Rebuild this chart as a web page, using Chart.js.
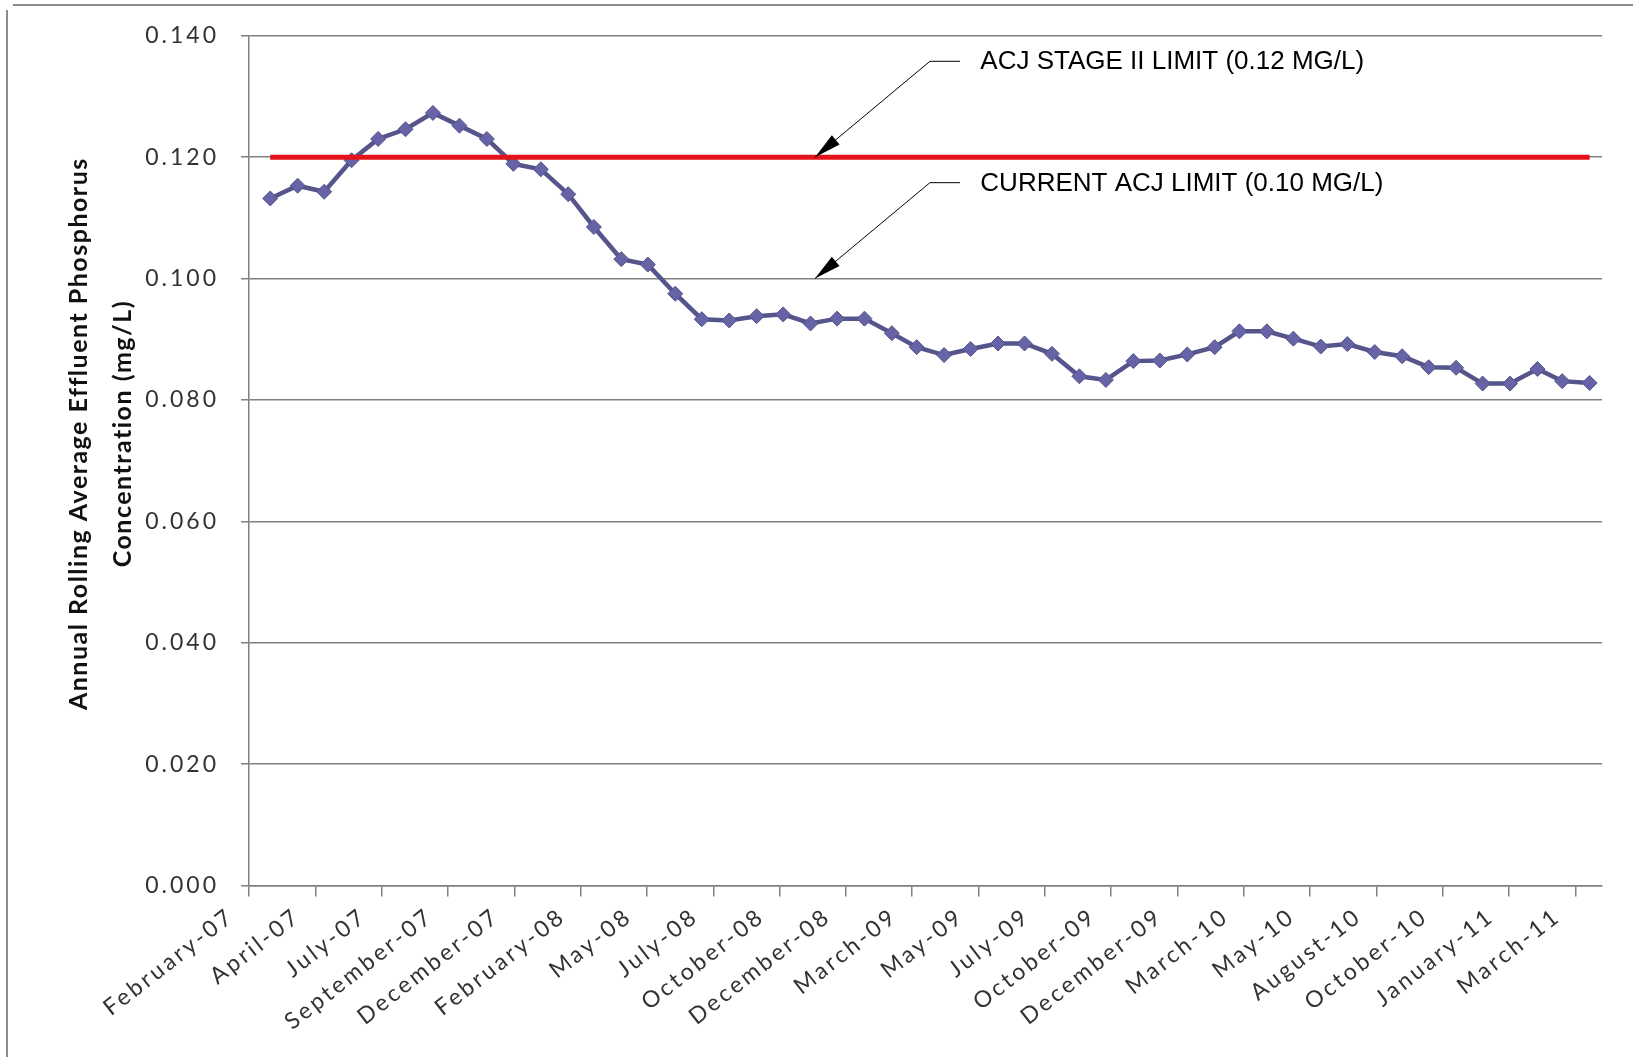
<!DOCTYPE html>
<html>
<head>
<meta charset="utf-8">
<title>Annual Rolling Average Effluent Phosphorus Concentration</title>
<script src="https://cdn.jsdelivr.net/npm/chart.js@4/dist/chart.umd.min.js"></script>
<style>
  html, body { margin: 0; padding: 0; background: #ffffff; }
  canvas { display: block; }
</style>
</head>
<body>
<canvas id="chart" width="1633" height="1057"></canvas>
<script>
// Monthly sample months (annual rolling average reported at the start of each month)
const months = [
  '2007-03', '2007-04', '2007-05', '2007-06', '2007-07', '2007-08', '2007-09', '2007-10', '2007-11', '2007-12',
  '2008-01', '2008-02', '2008-03', '2008-04', '2008-05', '2008-06', '2008-07', '2008-08', '2008-09', '2008-10', '2008-11', '2008-12',
  '2009-01', '2009-02', '2009-03', '2009-04', '2009-05', '2009-06', '2009-07', '2009-08', '2009-09', '2009-10', '2009-11', '2009-12',
  '2010-01', '2010-02', '2010-03', '2010-04', '2010-05', '2010-06', '2010-07', '2010-08', '2010-09', '2010-10', '2010-11', '2010-12',
  '2011-01', '2011-02', '2011-03', '2011-04'
];

// Annual rolling average effluent phosphorus, mg/L
const phosphorus = [
  0.1132, 0.1153, 0.1143, 0.1195, 0.1230, 0.1246, 0.1273, 0.1252, 0.1230, 0.1189,
  0.1180, 0.1139, 0.1085, 0.1032, 0.1023, 0.0975, 0.0933, 0.0931, 0.0938, 0.0941, 0.0926, 0.0934,
  0.0934, 0.0910, 0.0887, 0.0874, 0.0884, 0.0893, 0.0893, 0.0876, 0.0839, 0.0833, 0.0864, 0.0865,
  0.0875, 0.0887, 0.0913, 0.0913, 0.0901, 0.0888, 0.0892, 0.0879, 0.0872, 0.0854, 0.0853, 0.0827,
  0.0827, 0.0851, 0.0831, 0.0828
];

// Permit limits, mg/L
const stageIILimit = 0.12;
const currentLimit = 0.10;

// Date axis labels, one every 75 days from the axis start
const tickLabels = [
  'February-07', 'April-07', 'July-07', 'September-07', 'December-07',
  'February-08', 'May-08', 'July-08', 'October-08', 'December-08',
  'March-09', 'May-09', 'July-09', 'October-09', 'December-09',
  'March-10', 'May-10', 'August-10', 'October-10', 'January-11', 'March-11'
];

const axisStart = Date.UTC(2007, 1, 5);
const axisSpanDays = 1530;
const tickStepDays = 75;
const DAY = 86400000;

function dayOf(month) {
  const [y, m] = month.split('-').map(Number);
  return (Date.UTC(y, m - 1, 1) - axisStart) / DAY;
}

const tickDays = tickLabels.map((_, i) => i * tickStepDays);

// Callouts pointing at the two limits (positions in axis units)
const callouts = [
  { text: 'ACJ STAGE II LIMIT (0.12 MG/L)', value: stageIILimit, tipDay: 640, elbowDay: 770, lineEndDay: 804, textDay: 827, labelValue: 0.1358 },
  { text: 'CURRENT ACJ LIMIT (0.10 MG/L)',  value: currentLimit, tipDay: 640, elbowDay: 770, lineEndDay: 804, textDay: 827, labelValue: 0.1158 }
];

const yTitleLines = ['Annual Rolling Average Effluent Phosphorus', 'Concentration (mg/L)'];

// Widen the tick label tracking of a scale
function trackLabels(scale, spacing) {
  if (!scale || scale.__tracked) return;
  const drawLabels = scale.drawLabels;
  scale.drawLabels = function (area) {
    const ctx = this.ctx;
    const prev = ctx.letterSpacing;
    ctx.letterSpacing = spacing;
    drawLabels.call(this, area);
    ctx.letterSpacing = prev || '0px';
  };
  scale.__tracked = true;
}

const decorations = {
  id: 'decorations',
  beforeDraw(chart) {
    const ctx = chart.ctx;
    trackLabels(chart.scales.x, '3px');
    trackLabels(chart.scales.y, '3px');
    ctx.save();
    ctx.fillStyle = '#ffffff';
    ctx.fillRect(0, 0, chart.width, chart.height);
    // outer frame: top and left edges
    ctx.strokeStyle = '#8c8c8c';
    ctx.lineWidth = 2;
    ctx.beginPath();
    ctx.moveTo(13, 5);
    ctx.lineTo(chart.width, 5);
    ctx.moveTo(7, 10);
    ctx.lineTo(7, chart.height);
    ctx.stroke();
    ctx.restore();
  },
  afterDraw(chart) {
    const ctx = chart.ctx;
    const xs = chart.scales.x;
    const ys = chart.scales.y;

    callouts.forEach(c => {
      const tipX = xs.getPixelForValue(c.tipDay);
      const tipY = ys.getPixelForValue(c.value);
      const elbowX = xs.getPixelForValue(c.elbowDay);
      const elbowY = ys.getPixelForValue(c.labelValue);
      const endX = xs.getPixelForValue(c.lineEndDay);
      const textX = xs.getPixelForValue(c.textDay);

      ctx.save();
      ctx.strokeStyle = '#000000';
      ctx.fillStyle = '#000000';
      ctx.lineWidth = 1;
      ctx.beginPath();
      ctx.moveTo(endX, elbowY);
      ctx.lineTo(elbowX, elbowY);
      ctx.lineTo(tipX, tipY);
      ctx.stroke();

      const ang = Math.atan2(tipY - elbowY, tipX - elbowX);
      const len = 27, half = 6;
      const bx = tipX - len * Math.cos(ang);
      const by = tipY - len * Math.sin(ang);
      ctx.beginPath();
      ctx.moveTo(tipX, tipY);
      ctx.lineTo(bx + half * Math.sin(ang), by - half * Math.cos(ang));
      ctx.lineTo(bx - half * Math.sin(ang), by + half * Math.cos(ang));
      ctx.closePath();
      ctx.fill();

      ctx.font = '26px "Liberation Sans", Arial, sans-serif';
      ctx.textBaseline = 'middle';
      ctx.textAlign = 'left';
      ctx.fillText(c.text, textX, elbowY + 1);
      ctx.restore();
    });

    // vertical axis title, two lines
    const midY = (chart.chartArea.top + chart.chartArea.bottom) / 2 - 27;
    const lineX = [79, 123];
    ctx.save();
    ctx.fillStyle = '#111111';
    ctx.font = 'bold 25px Lato, "Open Sans", sans-serif';
    ctx.textAlign = 'center';
    ctx.textBaseline = 'middle';
    ctx.letterSpacing = '1.5px';
    yTitleLines.forEach((line, i) => {
      ctx.save();
      ctx.translate(lineX[i], midY);
      ctx.rotate(-Math.PI / 2);
      ctx.fillText(line, 0, 0);
      ctx.restore();
    });
    ctx.restore();
  }
};

const gridGray = '#808080';

new Chart(document.getElementById('chart'), {
  type: 'line',
  data: {
    datasets: [
      {
        label: 'ACJ Stage II Limit',
        data: months.map(m => ({ x: dayOf(m), y: stageIILimit })),
        borderColor: '#e3121b',
        borderWidth: 5,
        pointRadius: 0,
        tension: 0,
        order: 0
      },
      {
        label: 'Annual Rolling Average Effluent Phosphorus',
        data: months.map((m, i) => ({ x: dayOf(m), y: phosphorus[i] })),
        borderColor: '#55548b',
        borderWidth: 4.5,
        pointStyle: 'rectRot',
        pointRadius: 7.5,
        pointBackgroundColor: '#6664a6',
        pointBorderColor: '#55548b',
        pointBorderWidth: 1,
        tension: 0,
        order: 1
      }
    ]
  },
  options: {
    responsive: false,
    animation: false,
    devicePixelRatio: 1,
    layout: { padding: { left: 0, right: 31, top: 33, bottom: 0 } },
    plugins: {
      legend: { display: false },
      tooltip: { enabled: false }
    },
    scales: {
      x: {
        type: 'linear',
        min: 0,
        max: axisSpanDays,
        afterBuildTicks: scale => { scale.ticks = tickDays.map(v => ({ value: v })); },
        afterFit: scale => { scale.height = 171.5; },
        grid: { drawOnChartArea: false, drawTicks: true, tickLength: 11, color: gridGray, lineWidth: 1.5 },
        border: { display: true, color: gridGray, width: 1.5 },
        ticks: {
          autoSkip: false,
          maxRotation: 38,
          minRotation: 38,
          padding: 6,
          labelOffset: -18,
          color: '#333333',
          font: { family: 'Lato', size: 23 },
          callback: (value, index) => tickLabels[index]
        }
      },
      y: {
        min: 0,
        max: 0.14,
        afterFit: scale => { scale.width = 249; },
        grid: { color: gridGray, lineWidth: 1.5, tickLength: 8 },
        border: { display: true, color: gridGray, width: 1.5 },
        ticks: {
          stepSize: 0.02,
          padding: 22,
          color: '#333333',
          font: { family: 'Lato', size: 23 },
          callback: value => value.toFixed(3)
        }
      }
    }
  },
  plugins: [decorations]
});
</script>
</body>
</html>
